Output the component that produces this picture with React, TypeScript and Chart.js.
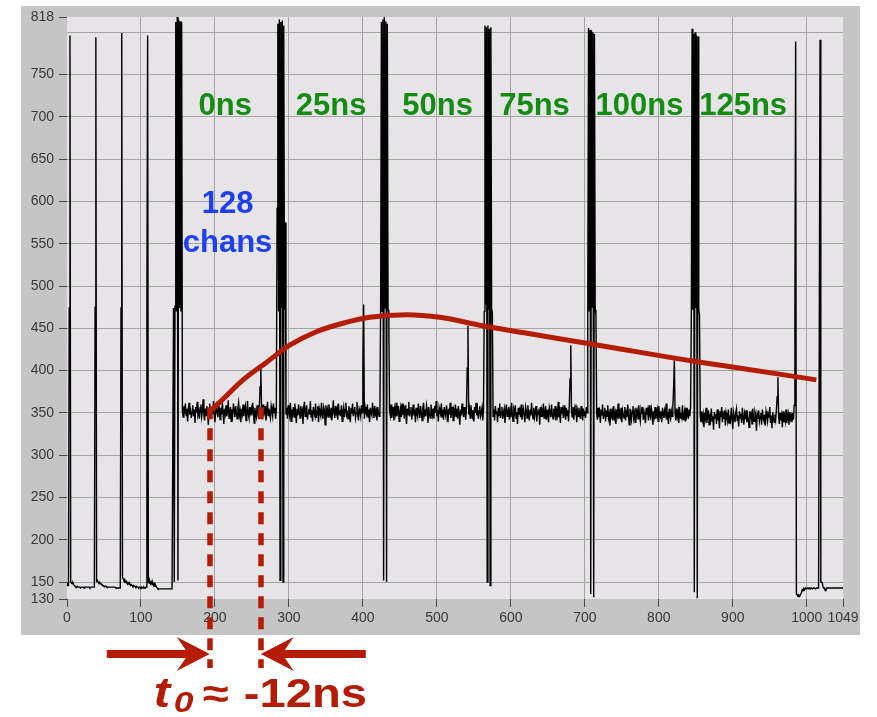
import React, { useEffect, useRef } from 'react';
import { Chart, registerables } from 'chart.js';

Chart.register(...registerables);

// ADC samples, channel 0..143: baseline with four marker pulses
const preamble = [
  146, 148, 147, 474, 796, 150, 149, 148, 149, 147, 146, 145,
  144, 144, 145, 144, 144, 144, 143, 144, 144, 144, 144, 143, 144, 144, 144, 144, 144, 144, 144, 143, 144, 144, 144, 144, 144, 144,
  475, 794, 151, 152, 150, 149, 150, 148, 148, 147, 146, 146, 145, 145,
  145, 145, 144, 144, 144, 144, 144, 144, 144, 144, 144, 144, 144, 144, 143, 143, 143, 143, 143, 143, 143,
  474, 799, 156, 154, 152, 153, 150, 151, 149, 148, 149, 147, 148, 146, 147, 146, 145, 146, 145, 145,
  144, 145, 144, 144, 143, 144, 144, 143, 144, 143, 143, 144, 143, 143, 144,
  475, 796, 150, 149, 151, 148, 150, 147, 149, 146, 148, 145, 146, 144, 143,
  142, 142, 142, 142, 142, 142, 142, 142, 142, 142, 142, 142, 142, 142, 142, 142, 142, 142, 142, 142, 142,
];

// header bursts (12 channels each) that precede every 128-channel frame
const burstStarts = [144, 284, 424, 564, 704, 844];
const burstLength = 12;
const burst1 = [474, 150, 476, 812, 470, 818, 152, 815, 474, 813, 470, 812];
const burst2 = [592, 810, 470, 815, 152, 812, 474, 814, 150, 808, 472, 575];
const burst3 = [480, 812, 470, 815, 152, 818, 474, 813, 150, 810, 472, 470];
const burst4 = [470, 808, 478, 806, 150, 808, 472, 804, 146, 806, 474, 468];
const burst5 = [472, 805, 470, 803, 136, 802, 475, 800, 132, 798, 472, 466];
const burst6 = [470, 804, 472, 798, 138, 800, 474, 796, 131, 795, 472, 466];

// pedestal samples of the 128 channels in each frame
const frame1 = [
  352, 345, 358, 349, 361, 347, 355, 340, 353, 362, 348, 356, 344, 351, 359, 346, 354, 338, 357, 350,
  363, 348, 352, 343, 356, 360, 345, 351, 366, 349, 341, 355, 347, 358, 352, 336, 350, 361, 344, 353,
  357, 349, 364, 346, 339, 352, 358, 350, 345, 360, 353, 342, 356, 348, 362, 351, 337, 355, 349, 359,
  346, 352, 365, 344, 350, 357, 340, 354, 348, 361, 353, 345, 358, 350, 343, 356, 362, 347, 352, 339,
  355, 349, 360, 346, 353, 358, 341, 351, 364, 348, 344, 357, 350, 355, 347, 362, 352, 338, 356, 349,
  345, 359, 351, 343, 357, 381, 405, 354, 348, 360, 346, 352, 358, 341, 350, 363, 347, 355, 349, 344,
  358, 352, 346, 361, 350, 356, 343, 353,
];
const frame2 = [
  348, 356, 343, 359, 351, 346, 362, 340, 354, 349, 357, 345, 361, 350, 338, 355, 347, 360, 352, 344,
  358, 349, 353, 337, 356, 363, 346, 351, 359, 342, 350, 355, 348, 364, 345, 353, 340, 357, 351, 347,
  361, 344, 352, 358, 339, 355, 350, 346, 362, 349, 343, 357, 353, 336, 359, 348, 354, 345, 360, 351,
  347, 356, 341, 352, 365, 349, 344, 358, 350, 355, 342, 361, 348, 353, 346, 359, 340, 351, 357, 345,
  354, 362, 347, 350, 343, 358, 352, 339, 356, 349, 361, 346, 353, 357, 344, 350, 363, 348, 341, 355,
  352, 346, 359, 350, 405, 478, 343, 357, 351, 348, 360, 345, 354, 339, 356, 350, 347, 362, 352, 344,
  358, 349, 353, 341, 357, 350, 346, 355,
];
const frame3 = [
  353, 347, 360, 344, 351, 357, 341, 355, 349, 362, 346, 352, 358, 340, 350, 356, 345, 361, 348, 354,
  343, 359, 351, 337, 355, 348, 363, 346, 352, 357, 342, 350, 360, 347, 354, 339, 356, 349, 345, 361,
  352, 344, 358, 350, 341, 355, 362, 347, 351, 346, 359, 353, 338, 357, 349, 344, 360, 352, 347, 355,
  343, 358, 350, 364, 346, 353, 340, 356, 351, 348, 361, 345, 354, 342, 357, 350, 346, 359, 352, 339,
  355, 348, 362, 344, 351, 357, 341, 353, 349, 360, 346, 355, 343, 358, 350, 336, 354, 347, 361, 352,
  345, 357, 349, 342, 356, 403, 453, 348, 355, 344, 359, 351, 346, 353, 340, 357, 350, 362, 347, 354,
  343, 352, 358, 346, 350, 356, 341, 353,
];
const frame4 = [
  346, 354, 341, 358, 349, 352, 339, 356, 347, 361, 344, 351, 357, 343, 350, 355, 338, 353, 360, 346,
  349, 357, 342, 352, 345, 362, 348, 340, 354, 350, 359, 344, 351, 337, 356, 348, 353, 345, 360, 342,
  350, 355, 347, 339, 357, 352, 344, 359, 349, 341, 354, 347, 362, 350, 343, 356, 345, 352, 358, 340,
  351, 348, 355, 336, 357, 346, 353, 349, 361, 344, 350, 358, 342, 354, 347, 339, 356, 351, 345, 360,
  348, 343, 355, 350, 358, 341, 352, 347, 363, 345, 351, 338, 357, 349, 354, 344, 359, 350, 342, 356,
  347, 353, 340, 358, 390, 430, 351, 345, 357, 342, 354, 348, 360, 339, 352, 346, 356, 350, 343, 358,
  349, 341, 355, 347, 352, 344, 357, 350,
];
const frame5 = [
  349, 342, 356, 345, 351, 338, 354, 347, 360, 343, 350, 356, 340, 353, 346, 359, 344, 349, 335, 355,
  347, 352, 341, 358, 345, 350, 337, 354, 348, 361, 343, 351, 346, 356, 339, 353, 348, 344, 357, 341,
  350, 345, 360, 347, 336, 355, 349, 342, 353, 358, 344, 350, 339, 356, 347, 352, 343, 359, 346, 340,
  354, 349, 357, 342, 351, 345, 338, 356, 348, 353, 341, 359, 347, 344, 355, 350, 336, 352, 346, 357,
  343, 349, 354, 340, 358, 347, 345, 352, 339, 356, 350, 344, 353, 348, 361, 342, 351, 337, 355, 347,
  343, 352, 346, 358, 379, 412, 349, 341, 355, 346, 352, 338, 357, 344, 350, 345, 359, 342, 348, 353,
  340, 356, 347, 351, 343, 354, 346, 358,
];
const frame6 = [
  346, 339, 352, 342, 348, 333, 350, 344, 356, 338, 347, 353, 336, 349, 343, 355, 340, 346, 330, 351,
  344, 349, 337, 354, 341, 347, 332, 352, 345, 357, 339, 348, 343, 353, 335, 350, 345, 340, 354, 338,
  347, 342, 356, 344, 331, 351, 346, 339, 350, 355, 341, 347, 334, 352, 344, 349, 338, 356, 343, 336,
  350, 346, 353, 339, 348, 342, 333, 352, 345, 349, 337, 355, 344, 340, 351, 347, 329, 348, 343, 353,
  340, 346, 350, 336, 354, 344, 341, 348, 335, 352, 347, 340, 349, 345, 357, 338, 347, 332, 351, 343,
  339, 348, 342, 354, 369, 392, 345, 337, 350, 341, 347, 333, 352, 339, 346, 340, 354, 338, 344, 349,
  336, 351, 343, 347, 339, 350, 342, 359,
];
const frameLength = 128;

// trailer, channel 984..1049
const trailerStart = 984;
const trailer = [
  466, 789, 136, 135, 134, 135, 133, 134, 134, 138, 141, 140, 142, 141, 143, 142, 142, 143, 142, 143,
  143, 142, 143, 143, 142, 143, 143, 143, 142, 143, 143, 143, 143, 468, 791, 150, 150, 149, 144, 143,
  143, 140, 141, 143, 143, 143, 143, 143, 143, 143, 143, 143, 143, 143, 143, 143, 143, 143, 143, 143,
  143, 143, 143, 143, 143, 143,
];

// pulse shape fitted over the pedestal
const fitChannels = [193, 207, 238, 270, 301, 337, 373, 409, 459, 504, 562, 616, 684, 752, 819, 886, 954, 1013];
const fitValues = [352, 363, 389, 410, 430, 446, 456, 463, 466, 463, 453, 445, 435, 425, 415, 406, 397, 389];

// start of fitted pulse vs. sampling start
const t0Channels = [193, 262];
const t0Level = 352;

const xTicks = [0, 100, 200, 300, 400, 500, 600, 700, 800, 900, 1000, 1049];
const yTicks = [130, 150, 200, 250, 300, 350, 400, 450, 500, 550, 600, 650, 700, 750, 800, 818];
const yUnlabelled = [800];

const nsLabels = ['0ns', '25ns', '50ns', '75ns', '100ns', '125ns'];
const nsChannels = [214, 357, 501, 632, 774, 914];
const nsLevel = 702;
const chanLabels = ['128', 'chans'];
const chanLabelChannel = 217;
const chanLabelLevels = [586, 540];

const bursts = [burst1, burst2, burst3, burst4, burst5, burst6];
const frames = [frame1, frame2, frame3, frame4, frame5, frame6];

const RED = '#b41c06';
const GREEN = '#148c14';
const BLUE = '#1e40f0';
const SANS = '"Liberation Sans", Arial, Helvetica, sans-serif';

function buildTrace() {
  const pts: { x: number; y: number }[] = [];
  const add = (start: number, vals: number[], len: number) =>
    vals.slice(0, len).forEach((v, i) => pts.push({ x: start + i, y: v }));
  add(0, preamble, burstStarts[0]);
  burstStarts.forEach((b, k) => {
    add(b, bursts[k], burstLength);
    add(b + burstLength, frames[k], frameLength);
  });
  add(trailerStart, trailer, 1050 - trailerStart);
  return pts;
}

function drawArrow(ctx: CanvasRenderingContext2D, tipX: number, tailX: number, y: number) {
  const dir = Math.sign(tipX - tailX);
  const headLen = 33;
  const headHalf = 17;
  const notch = 9;
  const shaft = 4;
  ctx.beginPath();
  ctx.moveTo(tailX, y - shaft);
  ctx.lineTo(tipX - dir * (headLen - notch), y - shaft);
  ctx.lineTo(tipX - dir * headLen, y - headHalf);
  ctx.lineTo(tipX, y);
  ctx.lineTo(tipX - dir * headLen, y + headHalf);
  ctx.lineTo(tipX - dir * (headLen - notch), y + shaft);
  ctx.lineTo(tailX, y + shaft);
  ctx.closePath();
  ctx.fill();
}

const scopePanel = {
  id: 'scopePanel',
  beforeDraw(chart: any) {
    const { ctx, chartArea: a, width, height } = chart;
    ctx.save();
    ctx.fillStyle = '#ffffff';
    ctx.fillRect(0, 0, width, height);
    ctx.fillStyle = '#c5c5c5';
    ctx.fillRect(a.left - 46, a.top - 11, a.right - a.left + 63, a.bottom - a.top + 47);
    ctx.fillStyle = '#e6e4e7';
    ctx.fillRect(a.left, a.top, a.right - a.left, a.bottom - a.top);
    ctx.restore();
  },
  afterDatasetsDraw(chart: any) {
    const { ctx, chartArea: a } = chart;
    const xs = chart.scales.x;
    const ys = chart.scales.y;
    ctx.save();

    // timing labels above each frame
    ctx.font = `bold 31px ${SANS}`;
    ctx.textAlign = 'center';
    ctx.textBaseline = 'alphabetic';
    ctx.fillStyle = GREEN;
    nsLabels.forEach((t, i) => ctx.fillText(t, xs.getPixelForValue(nsChannels[i]), ys.getPixelForValue(nsLevel)));
    ctx.fillStyle = BLUE;
    chanLabels.forEach((t, i) =>
      ctx.fillText(t, xs.getPixelForValue(chanLabelChannel), ys.getPixelForValue(chanLabelLevels[i]))
    );

    // dashed markers from the pedestal down below the axis
    ctx.strokeStyle = RED;
    ctx.lineWidth = 5.5;
    ctx.setLineDash([12, 9]);
    const bottomY = a.bottom + 69;
    t0Channels.forEach((c) => {
      const px = Math.round(xs.getPixelForValue(c));
      ctx.beginPath();
      ctx.moveTo(px, ys.getPixelForValue(t0Level) - 4);
      ctx.lineTo(px, bottomY);
      ctx.stroke();
    });
    ctx.setLineDash([]);

    // arrows pointing at the two markers
    ctx.fillStyle = RED;
    const arrowY = a.bottom + 55;
    const p0 = xs.getPixelForValue(t0Channels[0]);
    const p1 = xs.getPixelForValue(t0Channels[1]);
    drawArrow(ctx, p0, p0 - 103, arrowY);
    drawArrow(ctx, p1, p1 + 105, arrowY);

    // t0 ≈ -12ns in a wide bold face
    const baseY = a.bottom + 108;
    const pieces = [
      { t: 't', f: `italic bold 42px ${SANS}`, dx: -56, dy: 0 },
      { t: '0', f: `italic bold 30px ${SANS}`, dx: -36, dy: 5 },
      { t: '≈', f: `bold 40px ${SANS}`, dx: -7, dy: 0 },
      { t: '-12ns', f: `bold 40px ${SANS}`, dx: 34, dy: 0 },
    ];
    ctx.textAlign = 'left';
    pieces.forEach((p) => {
      ctx.save();
      ctx.translate(p0 + p.dx, baseY + p.dy);
      ctx.scale(1.18, 1);
      ctx.font = p.f;
      ctx.fillText(p.t, 0, 0);
      ctx.restore();
    });
    ctx.restore();
  },
};

export default function App() {
  const canvasRef = useRef<HTMLCanvasElement>(null);

  useEffect(() => {
    document.body.style.margin = '0';
    const canvas = canvasRef.current;
    if (!canvas) return;

    const edgeX = [xTicks[0], xTicks[xTicks.length - 1]];
    const edgeY = [yTicks[0], yTicks[yTicks.length - 1]];
    const tickFont = { family: SANS, size: 14 };

    const chart = new Chart(canvas, {
      type: 'line',
      data: {
        datasets: [
          {
            label: 'fit',
            data: fitChannels.map((c, i) => ({ x: c, y: fitValues[i] })),
            borderColor: RED,
            borderWidth: 5,
            pointRadius: 0,
            cubicInterpolationMode: 'monotone',
            order: 1,
          },
          {
            label: 'ADC',
            data: buildTrace(),
            borderColor: '#000000',
            borderWidth: 1.4,
            pointRadius: 0,
            tension: 0,
            order: 2,
          },
        ],
      },
      options: {
        animation: false,
        responsive: false,
        devicePixelRatio: 1,
        events: [],
        layout: { padding: { left: 0, right: 34, top: 17, bottom: 88 } },
        plugins: { legend: { display: false }, tooltip: { enabled: false } },
        scales: {
          x: {
            type: 'linear',
            min: 0,
            max: 1049,
            afterBuildTicks: (axis: any) => {
              axis.ticks = xTicks.map((v) => ({ value: v }));
            },
            afterFit: (s: any) => {
              s.height = 30;
            },
            border: { display: false },
            grid: {
              color: (c: any) => (edgeX.includes(c.tick?.value) ? 'rgba(0,0,0,0)' : '#a3a3a3'),
              tickColor: '#4a4a4a',
              tickLength: 8,
              lineWidth: 1,
            },
            ticks: {
              autoSkip: false,
              maxRotation: 0,
              padding: 3,
              color: '#383838',
              font: tickFont,
              callback: (v: any) => String(v),
            },
          },
          y: {
            type: 'linear',
            min: 130,
            max: 818,
            afterBuildTicks: (axis: any) => {
              axis.ticks = yTicks.map((v) => ({ value: v }));
            },
            afterFit: (s: any) => {
              s.width = 67;
            },
            border: { display: false },
            grid: {
              color: (c: any) => (edgeY.includes(c.tick?.value) ? 'rgba(0,0,0,0)' : '#a3a3a3'),
              tickColor: (c: any) => (yUnlabelled.includes(c.tick?.value) ? 'rgba(0,0,0,0)' : '#4a4a4a'),
              tickLength: 8,
              lineWidth: 1,
            },
            ticks: {
              autoSkip: false,
              padding: 5,
              color: '#383838',
              font: tickFont,
              callback: (v: any) => (yUnlabelled.includes(v) ? '' : String(v)),
            },
          },
        },
      },
      plugins: [scopePanel],
    } as any);

    return () => chart.destroy();
  }, []);

  return (
    <div style={{ width: 877, height: 717 }}>
      <canvas ref={canvasRef} width={877} height={717} style={{ display: 'block' }} />
    </div>
  );
}
